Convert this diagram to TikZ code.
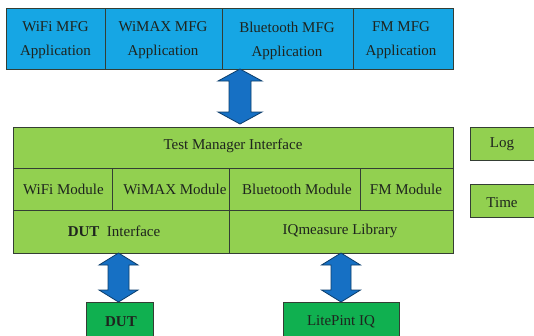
\documentclass[tikz,border=0pt]{standalone}
\usepackage{fontspec}
\setmainfont{Liberation Serif}
\usetikzlibrary{calc}

\definecolor{appblue}{RGB}{22,166,228}
\definecolor{layergreen}{RGB}{146,208,80}
\definecolor{hwgreen}{RGB}{16,176,80}
\definecolor{arrowblue}{RGB}{22,112,196}
\definecolor{edgegray}{RGB}{52,62,52}
\definecolor{inkgray}{RGB}{30,36,30}

\tikzset{
  cell/.style={draw=edgegray, line width=1pt, rectangle, inner sep=0pt, outer sep=0pt},
  appcell/.style={cell, fill=appblue},
  layercell/.style={cell, fill=layergreen},
  hwcell/.style={cell, fill=hwgreen},
  lbl/.style={text=inkgray, inner sep=0pt, align=center, font=\fontsize{15}{24}\selectfont},
  fatarrowstyle/.style={fill=arrowblue, draw=arrowblue!55!black, line width=0.8pt, line join=miter},
}

% double-headed block arrow: #1 upper tip, #2 lower tip,
% #3 half head width, #4 half shaft width, #5 head length
\newcommand\blockarrow[5]{%
  \draw[fatarrowstyle] let \p1=(#1), \p2=(#2) in
    (\x1,\y1) -- ({\x1+#3},{\y1-#5}) -- ({\x1+#4},{\y1-#5}) -- ({\x1+#4},{\y2+#5})
    -- ({\x1+#3},{\y2+#5}) -- (\x2,\y2) -- ({\x1-#3},{\y2+#5}) -- ({\x1-#4},{\y2+#5})
    -- ({\x1-#4},{\y1-#5}) -- ({\x1-#3},{\y1-#5}) -- cycle;}

\begin{document}
\begin{tikzpicture}[x=1pt, y=-1pt]
  \useasboundingbox (0,0) rectangle (534,335);
  \fill[white] (0,0) rectangle (534,335);
  \clip (0,0) rectangle (534,335);

  % manufacturing applications
  \node[appcell, minimum width=99pt,  minimum height=61pt] (wifiapp)  at (55.5,38.5) {};
  \node[appcell, minimum width=117pt, minimum height=61pt] (wimaxapp) at (163.5,38.5) {};
  \node[appcell, minimum width=131pt, minimum height=61pt] (btapp)    at (287.5,38.5) {};
  \node[appcell, minimum width=100pt, minimum height=61pt] (fmapp)    at (403,38.5) {};
  \node[lbl] (wifiapptext)  at (55.5,40.5) {WiFi MFG\\Application};
  \node[lbl] (wimaxapptext) at (163,40.5) {WiMAX MFG\\Application};
  \node[lbl] (btapptext)    at (287,40.5) {Bluetooth MFG\\Application};
  \node[lbl] (fmapptext)    at (401,40.5) {FM MFG\\Application};

  % test manager layer
  \node[layercell, minimum width=440pt, minimum height=41pt] (tmi) at (233,147.5) {};
  \node[lbl] (tmitext) at (233,146) {Test Manager Interface};

  \node[layercell, minimum width=99pt,  minimum height=42pt] (wifimod)  at (62.5,189) {};
  \node[layercell, minimum width=117pt, minimum height=42pt] (wimaxmod) at (170.5,189) {};
  \node[layercell, minimum width=131pt, minimum height=42pt] (btmod)    at (294.5,189) {};
  \node[layercell, minimum width=93pt,  minimum height=42pt] (fmmod)    at (406.5,189) {};
  \node[lbl] (wifimodtext)  at (63.5,189) {WiFi Module};
  \node[lbl] (wimaxmodtext) at (175,189) {WiMAX Module};
  \node[lbl] (btmodtext)    at (297,189) {Bluetooth Module};
  \node[lbl] (fmmodtext)    at (406,189) {FM Module};

  \node[layercell, minimum width=216pt, minimum height=43pt] (dutif) at (121,231.5) {};
  \node[layercell, minimum width=224pt, minimum height=43pt] (iqlib) at (341,231.5) {};
  \node[lbl] (dutiftext) at (114,231) {\textbf{DUT}\enspace Interface};
  \node[lbl] (iqlibtext) at (340,231) {IQmeasure Library};

  % side services
  \node[layercell, minimum width=70pt, minimum height=33pt] (log)  at (505,143.5) {};
  \node[layercell, minimum width=70pt, minimum height=33pt] (time) at (505,200.5) {};
  \node[lbl] (logtext)  at (502,144.5) {Log};
  \node[lbl] (timetext) at (502,203) {Time};

  % hardware
  \node[hwcell, minimum width=67pt,  minimum height=39pt] (dut) at (119.5,321.5) {};
  \node[hwcell, minimum width=116pt, minimum height=39pt] (iq)  at (341,321.5) {};
  \node[lbl] (duttext) at (121,321.5) {\textbf{DUT}};
  \node[lbl] (iqtext)  at (341,321.5) {LitePint IQ};

  % links between the layers
  \coordinate (a1top) at (240,0 |- wimaxapp.south);
  \coordinate (a1bot) at ($(240,0 |- tmi.north)+(0,-3)$);
  \coordinate (a2top) at (118.5,0 |- dutif.south);
  \coordinate (a2bot) at (118.5,0 |- dut.north);
  \coordinate (a3top) at (341,0 |- iqlib.south);
  \coordinate (a3bot) at (341,0 |- iq.north);
  \blockarrow{a1top}{a1bot}{22pt}{11pt}{12pt}
  \blockarrow{a2top}{a2bot}{19.5pt}{10.5pt}{12pt}
  \blockarrow{a3top}{a3bot}{19.5pt}{10pt}{12pt}
\end{tikzpicture}
\end{document}
